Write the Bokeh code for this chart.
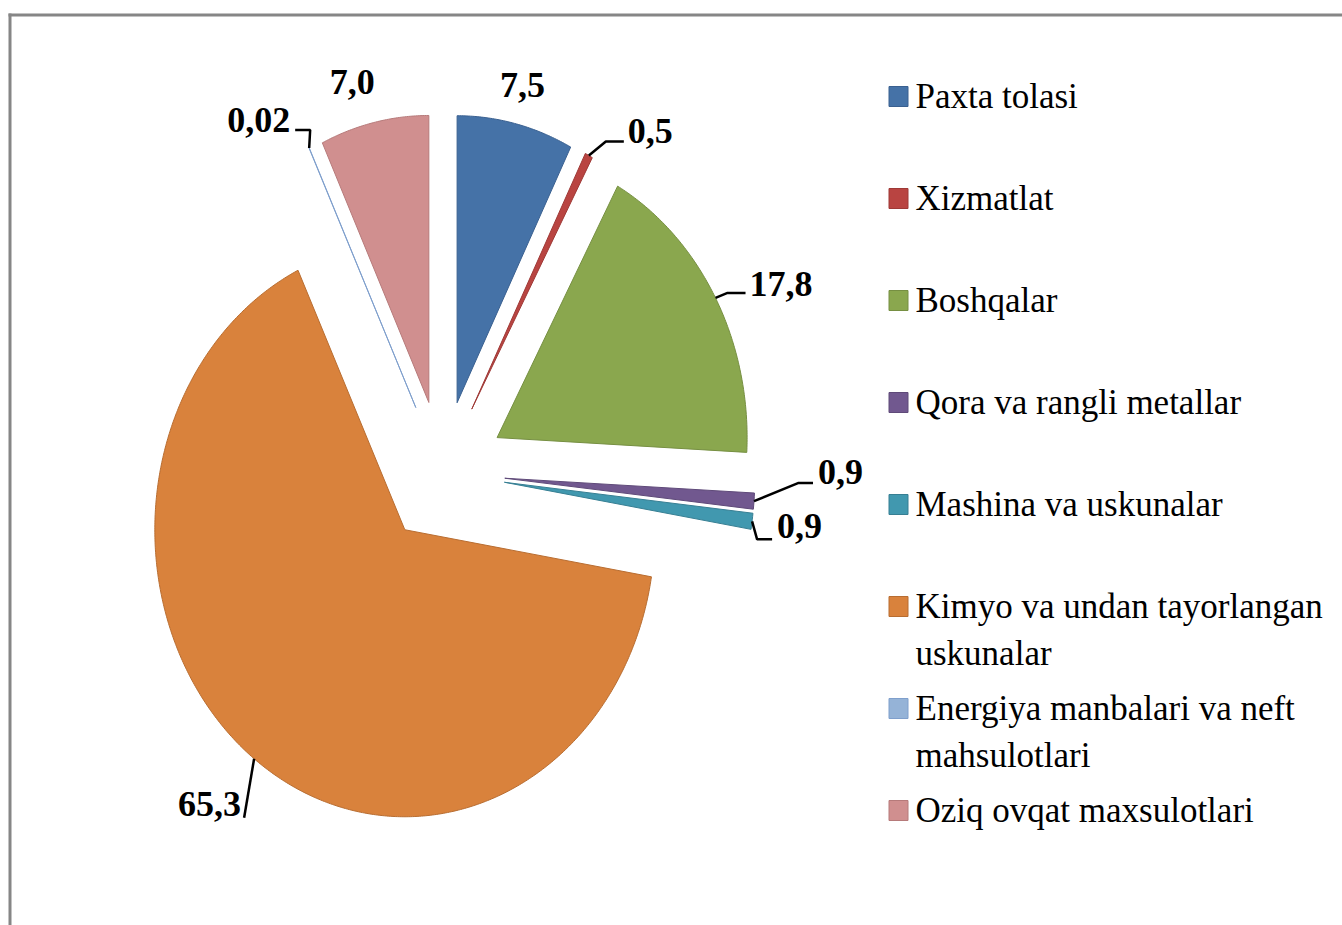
import numpy as np
from bokeh.plotting import figure
from bokeh.models import Range1d, ColumnDataSource
from bokeh.core.properties import value
from bokeh.embed import file_html
from bokeh.resources import INLINE

# ---------------- data ----------------
categories = ["Paxta tolasi", "Xizmatlat", "Boshqalar", "Qora va rangli metallar",
              "Mashina va uskunalar", "Kimyo va undan tayorlangan uskunalar",
              "Energiya manbalari va neft mahsulotlari", "Oziq ovqat maxsulotlari"]
shares = [7.5, 0.5, 17.8, 0.9, 0.9, 65.3, 0.02, 7.0]
share_labels = ["7,5", "0,5", "17,8", "0,9", "0,9", "65,3", "0,02", "7,0"]
legend_lines = [["Paxta tolasi"], ["Xizmatlat"], ["Boshqalar"], ["Qora va rangli metallar"],
                ["Mashina va uskunalar"], ["Kimyo va undan tayorlangan", "uskunalar"],
                ["Energiya manbalari va neft", "mahsulotlari"], ["Oziq ovqat maxsulotlari"]]

# ---------------- style ----------------
fills = ["#4572A7", "#B94441", "#8AA74E", "#71588F", "#4198AF", "#D9823C", "#95B3D7", "#D08F8F"]
edges = ["#3A6090", "#9E3936", "#768F42", "#5F4A79", "#377F93", "#B86D31", "#7F9FCC", "#B67A7A"]
CX, CY = 442.0, 472.0      # pie centre (pixels)
RX, RY = 250.0, 287.0      # radii (the chart is stretched vertically)
EXPLODE = 0.25
# label layout: (leader offsets relative to slice outer point, label offset, align)
label_layout = [
    ([], (7, -39), "center"),
    ([(17, -14), (35, -14)], (39, -25), "left"),
    ([(12, -5), (30, -5)], (34, -14), "left"),
    ([(44, -18), (59, -18)], (64, -29), "left"),
    ([(5, 18), (20, 18)], (25, 5), "left"),
    ([(-10, 59)], (-13, 45), "right"),
    ([(1, -18), (-14, -18)], (-19, -28), "right"),
    ([], (-22, -40), "center"),
]
FONT = "Liberation Serif"

W, H = 1342, 925
p = figure(width=W, height=H, output_backend="svg", toolbar_location=None,
           x_range=Range1d(0, W), y_range=Range1d(H, 0),
           min_border=0, outline_line_color=None, background_fill_color="white")
p.axis.visible = False
p.grid.visible = False

# chart-area border (left and top edges visible)
p.multi_line([[9.5, 9.5], [8, W]], [[13, H], [14.5, 14.5]], line_color="#868686", line_width=3)

total = float(sum(shares))
fr = np.array(shares) / total * 2 * np.pi
ends = np.cumsum(fr)
starts = ends - fr

xs, ys, ox, oy = [], [], [], []
for a0, a1 in zip(starts, ends):
    mid = 0.5 * (a0 + a1)
    vx = CX + EXPLODE * np.sin(mid) * RX
    vy = CY - EXPLODE * np.cos(mid) * RY
    n = max(3, int(np.degrees(a1 - a0) * 2))
    t = np.linspace(a0, a1, n)
    px = np.concatenate([[vx], vx + np.sin(t) * RX])
    py = np.concatenate([[vy], vy - np.cos(t) * RY])
    xs.append(list(px)); ys.append(list(py))
    ox.append(vx + np.sin(mid) * RX); oy.append(vy - np.cos(mid) * RY)

p.patches(xs, ys, fill_color=fills, line_color=edges, line_width=1)

# leaders and labels
lx, ly, lxs, lys, aligns = [], [], [], [], []
for i, (pts, off, al) in enumerate(label_layout):
    if pts:
        lxs.append([ox[i]] + [ox[i] + d[0] for d in pts])
        lys.append([oy[i]] + [oy[i] + d[1] for d in pts])
    lx.append(ox[i] + off[0]); ly.append(oy[i] + off[1]); aligns.append(al)
p.multi_line(lxs, lys, line_color="black", line_width=2.5)
src = ColumnDataSource(dict(x=lx, y=ly, t=share_labels, a=aligns))
p.text(x="x", y="y", text="t", text_align="a", source=src, text_baseline="middle",
       text_font=value(FONT), text_font_style="bold", text_font_size="36px", text_color="black")

# legend
LEG_X, LEG_Y0, LEG_DY, LINE_DY = 898, 96, 102, 47
sq_x, sq_y, tx, ty, tt = [], [], [], [], []
for i, lines in enumerate(legend_lines):
    yc = LEG_Y0 + i * LEG_DY
    sq_x.append(LEG_X); sq_y.append(yc)
    for j, line in enumerate(lines):
        tx.append(LEG_X + 17); ty.append(yc + j * LINE_DY); tt.append(line)
p.rect(sq_x, sq_y, width=19, height=20, fill_color=fills, line_color=edges, line_width=1)
p.text(tx, ty, text=tt, text_baseline="middle", text_align="left",
       text_font=value(FONT), text_font_size="35px", text_color="black")

open("out.html", "w").write(file_html(p, INLINE))
